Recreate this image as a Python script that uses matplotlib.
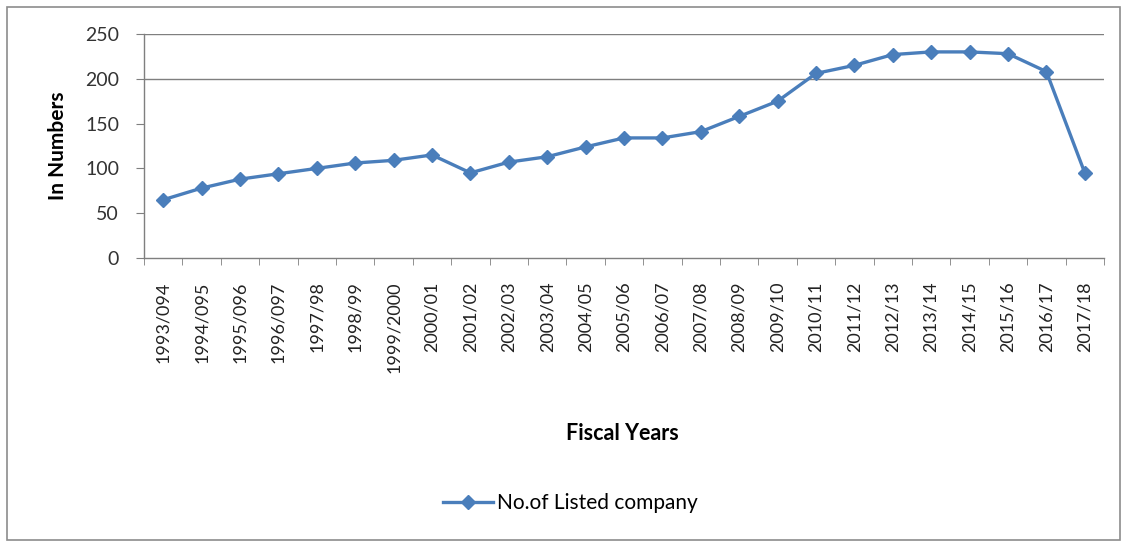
import matplotlib.pyplot as plt
from matplotlib.patches import Rectangle

years = ['1993/094', '1994/095', '1995/096', '1996/097', '1997/98', '1998/99',
         '1999/2000', '2000/01', '2001/02', '2002/03', '2003/04', '2004/05',
         '2005/06', '2006/07', '2007/08', '2008/09', '2009/10', '2010/11',
         '2011/12', '2012/13', '2013/14', '2014/15', '2015/16', '2016/17',
         '2017/18']
listed = [65, 78, 88, 94, 100, 106, 109, 115, 95, 107, 113, 124, 134, 134,
          141, 158, 175, 206, 215, 227, 230, 230, 228, 208, 95]
y_ticks = [0, 50, 100, 150, 200, 250]

plt.rcParams['font.family'] = ['Lato', 'DejaVu Sans']

fig = plt.figure(figsize=(11.28, 5.42), dpi=100)
ax = fig.add_axes([0.1277, 0.524, 0.851, 0.4133])

# outer chart border
fig.patches.append(Rectangle((0.006, 0.004), 0.987, 0.983, transform=fig.transFigure,
                             fill=False, edgecolor='#8c8c8c', linewidth=1.2))

x = list(range(len(years)))
ax.plot(x, listed, color='#4a7ebb', linewidth=2.4, marker='D', markersize=7,
        markerfacecolor='#4a7ebb', markeredgecolor='#4a7ebb',
        label='No.of Listed company')

ax.set_xlim(-0.5, len(years) - 0.5)
ax.set_ylim(0, 250)
ax.set_yticks(y_ticks)
ax.set_yticklabels([str(v) for v in y_ticks], fontsize=14, color='#333333')
ax.set_xticks(x)
ax.set_xticklabels(years, rotation=90, fontsize=13, color='#222222')
ax.tick_params(axis='x', length=0, pad=17)
ax.tick_params(axis='y', length=6, color='#7f7f7f', pad=12)

# category boundary tick marks
ax.set_xticks([i - 0.5 for i in range(len(years) + 1)], minor=True)
ax.tick_params(axis='x', which='minor', length=5, color='#7f7f7f')

for v in [200, 250]:
    ax.axhline(v, color='#7f7f7f', linewidth=1.0, zorder=0)

for s in ['top', 'right']:
    ax.spines[s].set_visible(False)
for s in ['left', 'bottom']:
    ax.spines[s].set_color('#7f7f7f')
    ax.spines[s].set_linewidth(1.0)

ax.set_ylabel('In Numbers', fontsize=15, fontweight='bold', labelpad=12)
fig.text(0.552, 0.201, 'Fiscal Years', fontsize=15.5, fontweight='bold',
         ha='center', va='center')

handles, labels = ax.get_legend_handles_labels()
fig.legend(handles, labels, loc='center', bbox_to_anchor=(0.506, 0.072),
           frameon=False, fontsize=15, handlelength=2.4, handletextpad=0.2)

fig.savefig('out.png', dpi=100, facecolor='white')
